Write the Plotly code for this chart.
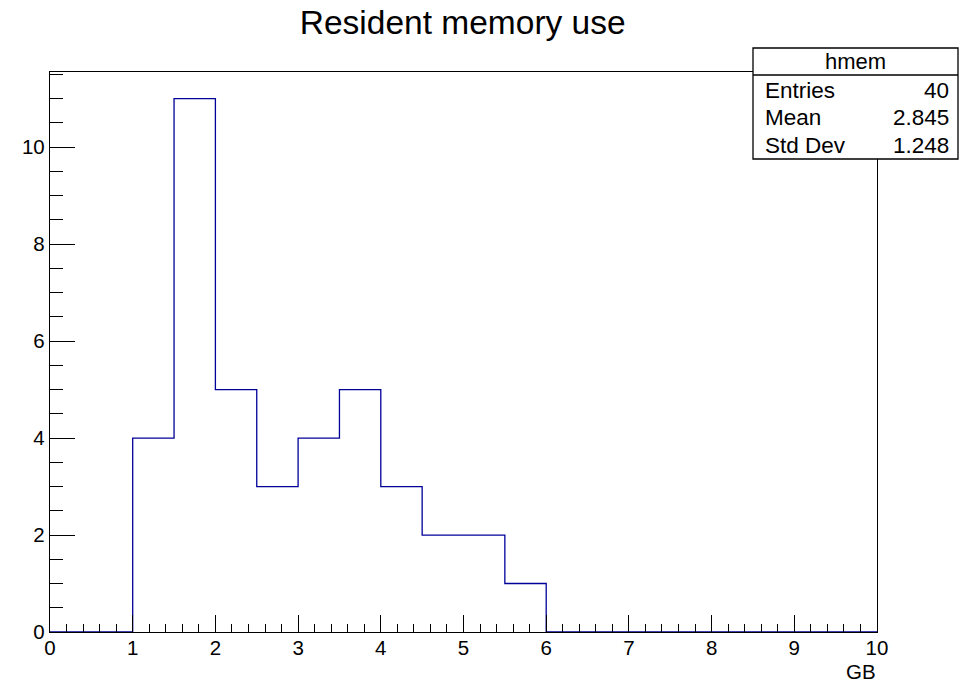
import plotly.graph_objects as go

# Histogram data (bin width 0.5 GB, range 0..10)
bin_edges = [i * 0.5 for i in range(21)]
counts = [0, 0, 4, 11, 5, 3, 4, 5, 3, 2, 2, 1, 0, 0, 0, 0, 0, 0, 0, 0]
x_ticks = [0, 1, 2, 3, 4, 5, 6, 7, 8, 9, 10]
y_ticks = [0, 2, 4, 6, 8, 10]
title = "Resident memory use"
x_title = "GB"
stats_name = "hmem"
stats_labels = ["Entries", "Mean", "Std Dev"]
stats_values = ["40", "2.845", "1.248"]

FONT = "Liberation Sans, Arial, Helvetica, sans-serif"
LINE = "#000099"

# step outline
xs = list(bin_edges)
ys = list(counts) + [counts[-1]]

fig = go.Figure()
fig.add_trace(go.Scatter(
    x=xs, y=ys, mode="lines", line=dict(shape="hv", color=LINE, width=1.3),
    hoverinfo="skip", showlegend=False,
))

ymax = max(counts) * 1.05

fig.update_layout(
    width=960, height=682,
    margin=dict(l=50, r=83, t=72, b=50),
    paper_bgcolor="white", plot_bgcolor="white",
    font=dict(family=FONT, color="black", size=20),
    title=dict(text=title, x=0.482, xanchor="center", y=0.967, yanchor="middle",
               font=dict(size=33.5, family=FONT, color="black")),
    xaxis=dict(range=[0, 10], tickvals=x_ticks, ticks="inside", ticklen=17, tickwidth=1.3,
               tickcolor="black", showline=True, linecolor="black", linewidth=1.3, mirror=True,
               showgrid=False, zeroline=False, tickfont=dict(size=20.5), ticklabelstandoff=-3,
               minor=dict(dtick=0.2, ticks="inside", ticklen=8, tickcolor="black", tickwidth=1.3, showgrid=False)),
    yaxis=dict(range=[0, ymax], tickvals=y_ticks, ticks="inside", ticklen=25, tickwidth=1.3,
               tickcolor="black", showline=True, linecolor="black", linewidth=1.3, mirror=True,
               showgrid=False, zeroline=False, tickfont=dict(size=20.5),
               minor=dict(dtick=0.5, ticks="inside", ticklen=12.5, tickcolor="black", tickwidth=1.3, showgrid=False)),
)

# x axis title, right-aligned under the axis end
fig.add_annotation(text=x_title, xref="paper", yref="paper", x=1.0, y=(632 - 671) / 560,
                   xanchor="right", yanchor="middle", showarrow=False, font=dict(size=20.5),
                   borderpad=0)

# stats box
bx0, bx1 = (753 - 50) / 827, (958 - 50) / 827
by_top, by_bot = (632 - 48) / 560, (632 - 159) / 560
by_sep = (632 - 75) / 560
fig.add_shape(type="rect", xref="paper", yref="paper", x0=bx0, x1=bx1, y0=by_bot, y1=by_top,
              fillcolor="white", line=dict(color="black", width=1.3), layer="above")
fig.add_shape(type="line", xref="paper", yref="paper", x0=bx0, x1=bx1, y0=by_sep, y1=by_sep,
              line=dict(color="black", width=1.3), layer="above")
fig.add_annotation(text=stats_name, xref="paper", yref="paper", x=(bx0 + bx1) / 2,
                   y=(632 - 61) / 560, xanchor="center", yanchor="middle", showarrow=False,
                   font=dict(size=22))
row_y = [90, 117, 145]
for lab, val, ry in zip(stats_labels, stats_values, row_y):
    yy = (632 - ry) / 560
    fig.add_annotation(text=lab, xref="paper", yref="paper", x=(763 - 50) / 827, y=yy,
                       xanchor="left", yanchor="middle", showarrow=False, font=dict(size=22.5))
    fig.add_annotation(text=val, xref="paper", yref="paper", x=(951 - 50) / 827, y=yy,
                       xanchor="right", yanchor="middle", showarrow=False, font=dict(size=22.5))

fig.write_html("out.html", config={"displayModeBar": False},
               post_script="document.body.style.margin='0';document.body.style.padding='0';")
